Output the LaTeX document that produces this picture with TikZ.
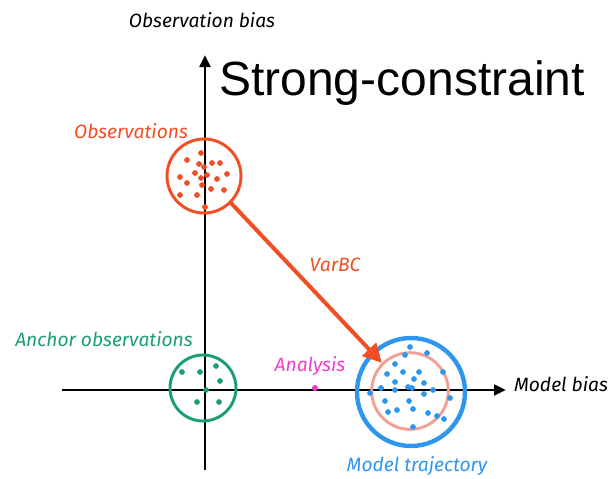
\documentclass[tikz,border=0pt]{standalone}
\usepackage{fontspec}
\setmainfont{Liberation Sans}
\newfontfamily\handfont{Fira Sans}
\usetikzlibrary{arrows.meta}
\definecolor{obsred}{HTML}{F24E23}
\definecolor{anchgreen}{HTML}{1B9E77}
\definecolor{modblue}{HTML}{2E96EE}
\definecolor{anpink}{HTML}{F2A096}
\definecolor{anmag}{HTML}{F23CCB}
\begin{document}
\begin{tikzpicture}[x=0.75pt,y=-0.75pt,
  axis/.style={line width=2.2pt,-{Triangle[length=9pt,width=8pt]}},
  hand/.style={font=\handfont\itshape\fontsize{14.4}{16}\selectfont},
  dot/.style={circle,fill=#1,inner sep=0pt,minimum size=4.3pt},
  ring/.style={circle,draw=#1,line width=2.2pt,inner sep=0pt}]
\useasboundingbox (0,0) rectangle (615,479);
% axes
\coordinate (ybot) at (205,470);
\coordinate (ytop) at (205,55);
\coordinate (xleft) at (62,390);
\coordinate (xright) at (506,390);
\draw[axis] (ybot) -- (ytop);
\draw[axis] (xleft) -- (xright);
\node[hand,text=black] (ylab) at (202,20) {Observation bias};
\node[hand,text=black] (xlab) at (561,384) {Model bias};
\node[font=\fontsize{36}{40}\selectfont] (title) at (402,83) {Strong-constraint};
% observations
\node[ring=obsred,minimum size=55.5pt] (obs) at (204,176) {};
\node[hand,text=obsred] (obslab) at (131,131) {Observations};
\foreach \p in {(201,153),(187,160),(199,164),(212,163),(220,163),(204,167),(180,177),(195,173),(207,175),(227,174),(201,178),(187,183),(217,179),(202,185),(180,195),(197,195),(211,189),(224,190),(205,207)}
  \node[dot=obsred] at \p {};
% anchor
\node[ring=anchgreen,minimum size=49.5pt] (anch) at (203,388) {};
\node[hand,text=anchgreen] (anchlab) at (104,339) {Anchor observations};
\foreach \p in {(182,372),(200,372),(216,366),(220,381),(206,390),(197,402),(219,402)}
  \node[dot=anchgreen] at \p {};
% model
\node[ring=modblue,line width=3.3pt,minimum size=81pt] (model) at (411,392) {};
\node[ring=anpink,minimum size=57.5pt] (an) at (410,391) {};
\node[hand,text=modblue] (modlab) at (417,466) {Model trajectory};
\foreach \p in {(410,347),(405,355),(427,353),(395,364),(387,374),(403,372),(419,372),(443,372),(414,379),(395,382),(424,383),(381,388),(408,387),(412,388),(370,393),(395,390),(433,390),(424,394),(450,398),(385,401),(409,401),(388,412),(397,410),(413,409),(428,413),(437,416),(444,419),(413,427)}
  \node[dot=modblue] at \p {};
% analysis
\node[dot=anmag,minimum size=4.5pt] (anadot) at (315,388) {};
\node[hand,text=anmag] (analab) at (310,366) {Analysis};
% VarBC arrow
\draw[obsred,line width=3pt,-{Triangle[length=14pt,width=14pt]}] (obs.-45) -- (an.135);
\node[hand,text=obsred] (varbc) at (335,265) {VarBC};
\end{tikzpicture}
\end{document}
